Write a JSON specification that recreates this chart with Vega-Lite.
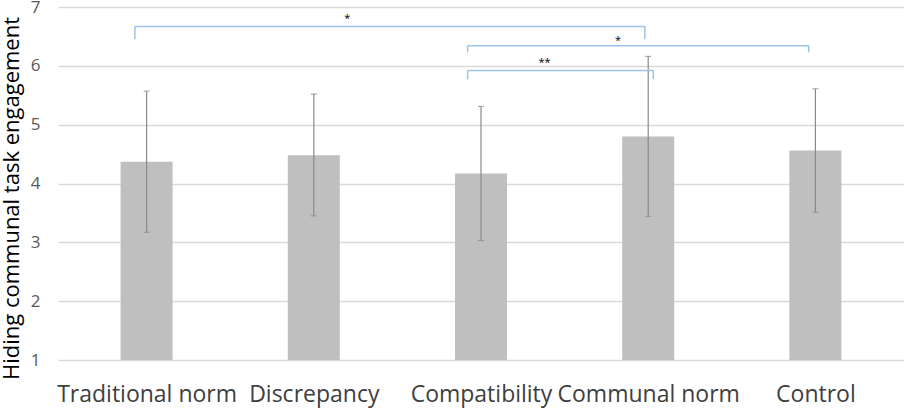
{
  "$schema": "https://vega.github.io/schema/vega-lite/v6.json",
  "autosize": "none",
  "width": 846,
  "height": 353,
  "padding": {"left": 58, "top": 7, "right": 0, "bottom": 48},
  "background": "white",
  "config": {
    "font": "Open Sans",
    "view": {"stroke": null},
    "axis": {"domain": false, "ticks": false}
  },
  "datasets": {
    "bars": [
      {"idx": 1, "condition": "Traditional norm", "mean": 4.37, "lo": 3.17, "hi": 5.57},
      {"idx": 2, "condition": "Discrepancy", "mean": 4.48, "lo": 3.45, "hi": 5.52},
      {"idx": 3, "condition": "Compatibility", "mean": 4.17, "lo": 3.03, "hi": 5.31},
      {"idx": 4, "condition": "Communal norm", "mean": 4.80, "lo": 3.44, "hi": 6.16},
      {"idx": 5, "condition": "Control", "mean": 4.56, "lo": 3.51, "hi": 5.61}
    ],
    "brackets": [
      {"pair": "Traditional norm vs Communal norm", "from": 0.93, "to": 3.98, "top": 6.67, "drop": 6.45},
      {"pair": "Compatibility vs Control", "from": 2.92, "to": 4.96, "top": 6.34, "drop": 6.23},
      {"pair": "Compatibility vs Communal norm", "from": 2.92, "to": 4.03, "top": 5.92, "drop": 5.77}
    ],
    "stars": [
      {"pos": 2.2, "level": 6.8, "sig": "*"},
      {"pos": 3.82, "level": 6.43, "sig": "*"},
      {"pos": 3.38, "level": 6.05, "sig": "**"}
    ]
  },
  "layer": [
    {
      "data": {"name": "bars"},
      "mark": {"type": "bar", "size": 52, "color": "#bfbfbf"},
      "encoding": {
        "x": {
          "field": "idx",
          "type": "quantitative",
          "title": null,
          "scale": {"domain": [0.5, 5.5], "nice": false, "zero": false},
          "axis": {
            "grid": false,
            "values": [1, 2, 3, 4, 5],
            "labelExpr": "['', 'Traditional norm', 'Discrepancy', 'Compatibility', 'Communal norm', 'Control'][datum.value]",
            "labelFontSize": 23,
            "labelColor": "#404040",
            "labelBaseline": "alphabetic",
            "labelPadding": 41,
            "labelLimit": 0,
            "labelOverlap": false,
            "labelFlush": false,
            "labelBound": false
          }
        },
        "y": {
          "field": "mean",
          "type": "quantitative",
          "title": "Hiding communal task engagement",
          "scale": {"domain": [1, 7], "nice": false, "zero": false},
          "axis": {
            "titleFontSize": 22,
            "titleFontWeight": "normal",
            "titleColor": "black",
            "titleX": -35,
            "titleY": 191,
            "values": [1, 2, 3, 4, 5, 6, 7],
            "format": "d",
            "labelFontSize": 17,
            "labelColor": "#595959",
            "labelPadding": 18,
            "grid": true,
            "gridColor": "#d9d9d9",
            "gridWidth": 1.5
          }
        },
        "y2": {"datum": 1}
      }
    },
    {
      "data": {"name": "bars"},
      "mark": {"type": "errorbar", "color": "#8a8a8a", "thickness": 1.2, "ticks": {"size": 6}},
      "encoding": {
        "x": {"field": "idx", "type": "quantitative", "title": null},
        "y": {"field": "lo", "type": "quantitative", "title": "Hiding communal task engagement"},
        "y2": {"field": "hi"}
      }
    },
    {
      "data": {"name": "brackets"},
      "mark": {"type": "rule", "color": "#9dc3e6", "strokeWidth": 1.5},
      "encoding": {
        "x": {"field": "from", "type": "quantitative", "title": null},
        "x2": {"field": "to"},
        "y": {"field": "top", "type": "quantitative", "title": "Hiding communal task engagement"}
      }
    },
    {
      "data": {"name": "brackets"},
      "mark": {"type": "rule", "color": "#9dc3e6", "strokeWidth": 1.5},
      "encoding": {
        "x": {"field": "from", "type": "quantitative", "title": null},
        "y": {"field": "top", "type": "quantitative", "title": "Hiding communal task engagement"},
        "y2": {"field": "drop"}
      }
    },
    {
      "data": {"name": "brackets"},
      "mark": {"type": "rule", "color": "#9dc3e6", "strokeWidth": 1.5},
      "encoding": {
        "x": {"field": "to", "type": "quantitative", "title": null},
        "y": {"field": "top", "type": "quantitative", "title": "Hiding communal task engagement"},
        "y2": {"field": "drop"}
      }
    },
    {
      "data": {"name": "stars"},
      "mark": {"type": "text", "fontSize": 11, "color": "black", "baseline": "middle"},
      "encoding": {
        "x": {"field": "pos", "type": "quantitative", "title": null},
        "y": {"field": "level", "type": "quantitative", "title": "Hiding communal task engagement"},
        "text": {"field": "sig"}
      }
    }
  ]
}
